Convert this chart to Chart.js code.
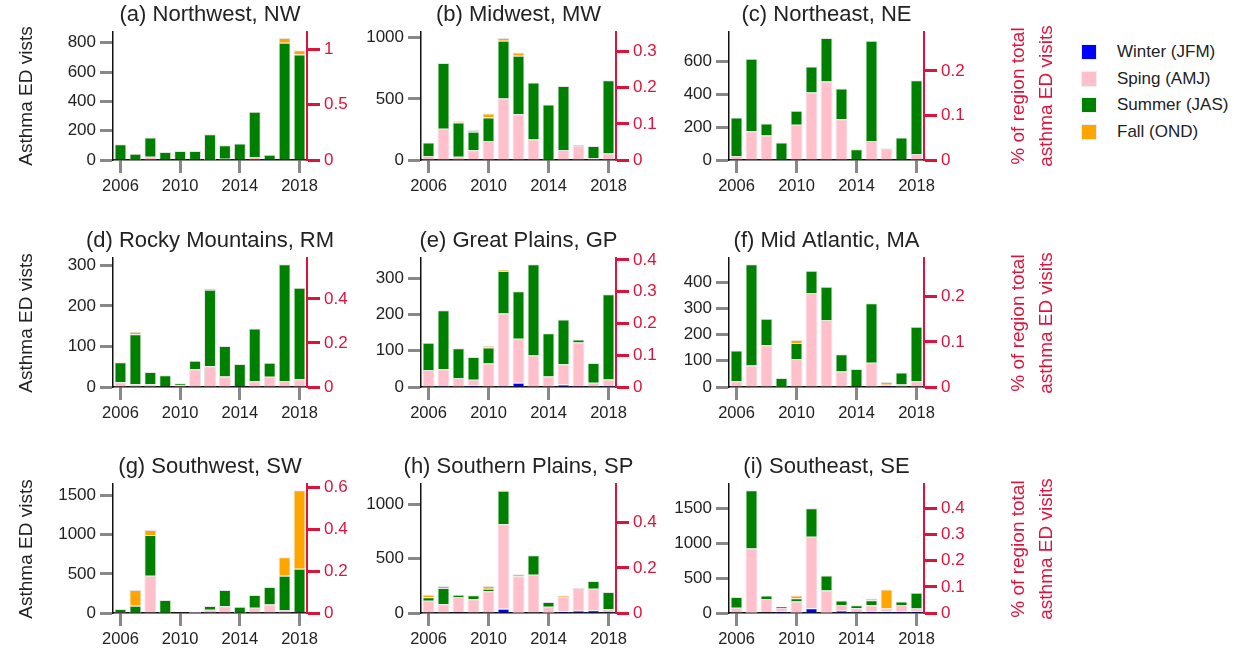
<!DOCTYPE html>
<html>
<head>
<meta charset="utf-8">
<script src="https://cdn.jsdelivr.net/npm/chart.js@4.4.1/dist/chart.umd.min.js"></script>
<style>
  body { margin: 0; background: #fff; }
  #wrap { position: relative; width: 1234px; height: 656px; overflow: hidden; background: #fff;
          font-family: "Liberation Sans", Arial, sans-serif; color: #222; }
  #wrap canvas { position: absolute; }
  .vlabel { position: absolute; white-space: nowrap; text-align: center; font-size: 19px;
            transform: translate(-50%, -50%) rotate(-90deg); }
  .red { color: #dc143c; line-height: 28px; }
  .legend { position: absolute; left: 1081px; top: 39px; font-size: 17px; }
  .legend div { height: 26.5px; display: flex; align-items: center; }
  .legend span.box { width: 16px; height: 16px; margin-right: 20px; box-sizing: border-box; border: 1px solid #eee; }
</style>
</head>
<body>
<div id="wrap"></div>
<script>
const years = [2006, 2007, 2008, 2009, 2010, 2011, 2012, 2013, 2014, 2015, 2016, 2017, 2018];
const seasons = ['Winter (JFM)', 'Sping (AMJ)', 'Summer (JAS)', 'Fall (OND)'];
const seasonColors = ['#0000ff', '#ffc0cb', '#008000', '#ffa500'];

const titles = ['(a) Northwest, NW', '(b) Midwest, MW', '(c) Northeast, NE',
  '(d) Rocky Mountains, RM', '(e) Great Plains, GP', '(f) Mid Atlantic, MA',
  '(g) Southwest, SW', '(h) Southern Plains, SP', '(i) Southeast, SE'];

// total asthma ED visits per region (sets the % axis)
const regionTotals = [75700, 295800, 270900, 54300, 87700, 172400, 266700, 207800, 374600];
const leftSteps = [200, 500, 200, 100, 100, 100, 500, 500, 500];
const rightSteps = [0.5, 0.1, 0.1, 0.2, 0.1, 0.1, 0.2, 0.2, 0.1];

const winterNW = [0, 0, 0, 0, 0, 0, 0, 0, 0, 0, 0, 0, 0];
const springNW = [3, 2, 23, 3, 0, 0, 2, 8, 0, 20, 0, 0, 0];
const summerNW = [105, 40, 130, 52, 61, 61, 173, 92, 113, 309, 36, 800, 720];
const fallNW   = [0, 0, 0, 0, 0, 0, 5, 0, 0, 0, 0, 32, 29];

const winterMW = [0, 0, 0, 8, 0, 0, 0, 0, 0, 0, 0, 0, 0];
const springMW = [33, 255, 27, 71, 155, 503, 375, 168, 2, 82, 117, 16, 54];
const summerMW = [111, 538, 280, 152, 193, 472, 478, 465, 452, 524, 5, 98, 598];
const fallMW   = [0, 0, 10, 14, 32, 22, 27, 0, 0, 0, 0, 0, 0];

const winterNE = [0, 0, 0, 0, 0, 0, 0, 0, 0, 0, 0, 0, 0];
const springNE = [24, 174, 149, 3, 214, 410, 477, 248, 3, 115, 71, 0, 36];
const summerNE = [235, 442, 73, 104, 85, 158, 264, 186, 62, 610, 0, 137, 449];
const fallNE   = [0, 0, 0, 0, 0, 0, 0, 0, 0, 0, 0, 0, 0];

const winterRM = [0, 0, 0, 0, 0, 0, 0, 0, 0, 0, 0, 0, 0];
const springRM = [12, 7, 7, 1, 5, 44, 51, 26, 2, 14, 25, 15, 19];
const summerRM = [49, 123, 30, 28, 4, 21, 189, 75, 55, 130, 35, 288, 226];
const fallRM   = [0, 6, 0, 0, 0, 0, 3, 0, 0, 0, 0, 0, 0];

const winterGP = [0, 3, 0, 4, 0, 3, 12, 0, 0, 7, 3, 0, 3];
const springGP = [47, 46, 25, 16, 65, 200, 121, 87, 29, 56, 120, 12, 18];
const summerGP = [75, 163, 82, 63, 44, 117, 131, 252, 119, 123, 8, 54, 235];
const fallGP   = [0, 0, 1, 0, 4, 3, 0, 0, 0, 0, 0, 0, 0];

const winterMA = [0, 0, 0, 0, 0, 0, 0, 0, 0, 0, 5, 0, 0];
const springMA = [22, 82, 159, 1, 107, 359, 256, 59, 2, 93, 4, 10, 22];
const summerMA = [117, 387, 102, 33, 61, 85, 127, 66, 67, 227, 0, 45, 208];
const fallMA   = [0, 0, 0, 0, 11, 0, 0, 0, 0, 0, 10, 0, 0];

const winterSW = [0, 0, 0, 0, 0, 2, 0, 0, 0, 0, 0, 0, 0];
const springSW = [12, 3, 475, 2, 0, 10, 42, 85, 2, 68, 110, 38, 8];
const summerSW = [39, 90, 521, 163, 0, 0, 47, 208, 79, 161, 221, 437, 556];
const fallSW   = [0, 200, 64, 0, 10, 0, 0, 0, 0, 0, 0, 237, 1005];

const winterSP = [0, 0, 8, 0, 0, 40, 3, 0, 3, 15, 21, 25, 8];
const springSP = [114, 80, 139, 126, 200, 777, 335, 353, 55, 132, 209, 199, 26];
const summerSP = [30, 150, 22, 37, 24, 310, 0, 178, 43, 0, 3, 71, 159];
const fallSP   = [25, 19, 0, 0, 25, 5, 18, 0, 0, 10, 0, 0, 0];

const winterSE = [8, 5, 12, 19, 3, 67, 5, 34, 14, 19, 24, 19, 24];
const springSE = [69, 918, 190, 53, 161, 1025, 317, 81, 53, 92, 40, 96, 39];
const summerSE = [154, 837, 48, 19, 48, 408, 217, 63, 44, 72, 5, 49, 226];
const fallSE   = [0, 0, 0, 0, 38, 0, 0, 0, 0, 24, 268, 0, 0];

const regions = [
  [winterNW, springNW, summerNW, fallNW],
  [winterMW, springMW, summerMW, fallMW],
  [winterNE, springNE, summerNE, fallNE],
  [winterRM, springRM, summerRM, fallRM],
  [winterGP, springGP, summerGP, fallGP],
  [winterMA, springMA, summerMA, fallMA],
  [winterSW, springSW, summerSW, fallSW],
  [winterSP, springSP, summerSP, fallSP],
  [winterSE, springSE, summerSE, fallSE]
];

// grid of plot areas (spine positions)
const colLeft = [113, 421, 729];
const colWidth = [194, 195, 195];
const rowTop = [32, 258, 484];
const rowHeight = [128, 129, 129];

Chart.defaults.font.family = '"Liberation Sans", Arial, sans-serif';
Chart.defaults.color = '#222';

const RED = '#dc143c';
const wrap = document.getElementById('wrap');

// ticks at 0, step, 2*step ... up to max (no tick at the max itself)
function stepTicks(step) {
  return scale => {
    const out = [];
    for (let i = 0; i * step <= scale.max + 1e-9; i++) out.push({ value: +(i * step).toFixed(4) });
    scale.ticks = out;
  };
}

function makePanel(k) {
  const col = k % 3, row = Math.floor(k / 3);
  const SW = 80, TH = 30, BH = 40;   // side axis width, title height, x-axis height
  const cvs = document.createElement('canvas');
  const w = SW * 2 + colWidth[col], h = TH + rowHeight[row] + BH;
  cvs.width = w; cvs.height = h;
  cvs.style.left = (colLeft[col] - SW) + 'px';
  cvs.style.top = (rowTop[row] - TH) + 'px';
  cvs.style.width = w + 'px'; cvs.style.height = h + 'px';
  wrap.appendChild(cvs);

  const data = regions[k];
  const totals = years.map((_, i) => data.reduce((s, arr) => s + arr[i], 0));
  const ymax = Math.max(...totals) * 1.05;
  const rmax = ymax / regionTotals[k] * 100;

  new Chart(cvs, {
    type: 'bar',
    data: {
      labels: years,
      datasets: seasons.map((name, j) => ({
        label: name,
        data: data[j],
        backgroundColor: seasonColors[j],
        borderColor: 'rgba(228,228,228,1)',
        borderWidth: 1,
        barPercentage: 0.8,
        categoryPercentage: 1.0
      }))
    },
    options: {
      responsive: false,
      devicePixelRatio: 1,
      animation: false,
      layout: { padding: 0 },
      plugins: {
        legend: { display: false },
        tooltip: { enabled: false },
        title: {
          display: true, text: titles[k],
          color: '#222', font: { size: 22, weight: 'normal', lineHeight: 1.2 },
          padding: { top: 0, bottom: 3.6 }
        }
      },
      scales: {
        x: {
          stacked: true, offset: true,
          ticks: {
            autoSkip: false, maxRotation: 0, minRotation: 0, padding: 4,
            font: { size: 16.5 }, color: '#222',
            callback: (v, i) => ((years[i] - 2006) % 4 === 0 ? String(years[i]) : '')
          },
          grid: {
            offset: false, drawOnChartArea: false, drawTicks: true, tickLength: 13, tickWidth: 3,
            tickColor: ctx => ((years[ctx.index] - 2006) % 4 === 0 ? '#888' : 'rgba(0,0,0,0)')
          },
          border: { display: true, color: '#111', width: 1.5 },
          afterFit: s => { s.height = BH; }
        },
        y: {
          stacked: true, min: 0, max: ymax, position: 'left',
          afterBuildTicks: stepTicks(leftSteps[k]),
          ticks: { padding: 4, font: { size: 17 }, color: '#222', callback: v => String(v) },
          grid: { drawOnChartArea: false, drawTicks: true, tickLength: 13, tickWidth: 3, tickColor: '#888' },
          border: { display: true, color: '#111', width: 1.5 },
          afterFit: s => { s.width = SW; }
        },
        y2: {
          min: 0, max: rmax, position: 'right',
          afterBuildTicks: stepTicks(rightSteps[k]),
          ticks: { padding: 4, font: { size: 17 }, color: RED, callback: v => String(+(+v).toFixed(2)) },
          grid: { drawOnChartArea: false, drawTicks: true, tickLength: 13, tickWidth: 3, tickColor: RED },
          border: { display: true, color: RED, width: 2 },
          afterFit: s => { s.width = SW; }
        }
      }
    }
  });
}

for (let k = 0; k < 9; k++) makePanel(k);

// axis titles outside the panels
for (let row = 0; row < 3; row++) {
  const cy = rowTop[row] + rowHeight[row] / 2;
  const l = document.createElement('div');
  l.className = 'vlabel';
  l.style.left = '26px'; l.style.top = cy + 'px';
  l.textContent = 'Asthma ED vists';
  wrap.appendChild(l);

  const r = document.createElement('div');
  r.className = 'vlabel red';
  r.style.left = '1032px'; r.style.top = cy + 'px';
  r.innerHTML = '% of region total<br>asthma ED visits';
  wrap.appendChild(r);
}

// legend
const lg = document.createElement('div');
lg.className = 'legend';
seasons.forEach((name, j) => {
  const item = document.createElement('div');
  const box = document.createElement('span');
  box.className = 'box';
  box.style.background = seasonColors[j];
  item.appendChild(box);
  item.appendChild(document.createTextNode(name));
  lg.appendChild(item);
});
wrap.appendChild(lg);
</script>
</body>
</html>
